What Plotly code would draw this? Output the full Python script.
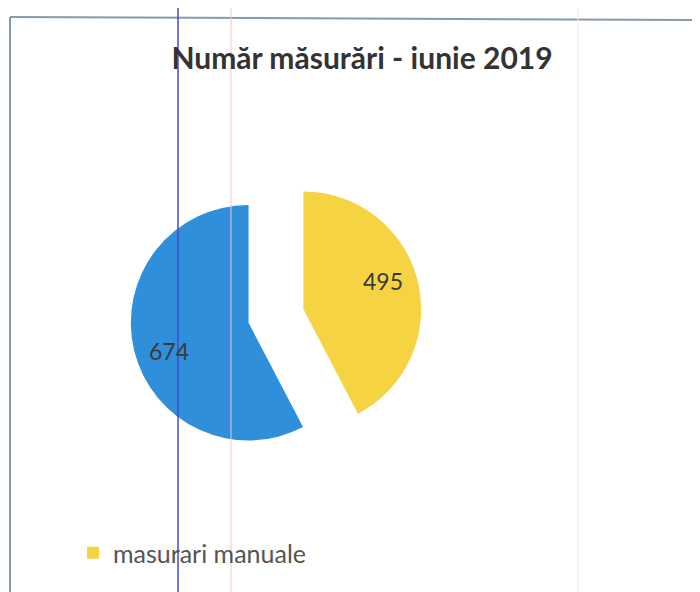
import math
import plotly.graph_objects as go

title = "Număr măsurări - iunie 2019"
labels = ["masurari manuale", "masurari automate"]
values = [495, 674]
colors = ["#F6D343", "#2F8FDB"]
legend_label = "masurari manuale"

# page body has an 8px margin, so the figure is a little smaller than the window
W, H = 692, 584
PULL = 0.24
LABEL_R = 0.72
LABEL_ROT = -6  # degrees, label slightly before the bisector

# pie box in pixels (top-down)
bx0, bx1, by0, by1 = 122, 414, 162, 454

fig = go.Figure()
fig.add_trace(go.Pie(
    labels=labels,
    values=values,
    sort=False,
    direction="clockwise",
    rotation=0,
    pull=[PULL] * len(values),
    marker=dict(colors=colors, line=dict(width=0)),
    textinfo="none",
    showlegend=False,
    domain=dict(x=[bx0 / W, bx1 / W], y=[1 - by1 / H, 1 - by0 / H]),
    hoverinfo="label+value",
))
# legend entry (only the yellow series is visible in the reference legend)
fig.add_trace(go.Scatter(
    x=[None], y=[None], mode="markers", name=legend_label,
    marker=dict(symbol="square", size=12, color=colors[0]),
    showlegend=True,
))

# value labels placed along each slice (computed from the data)
cx, cy = (bx0 + bx1) / 2, (by0 + by1) / 2
r = min(bx1 - bx0, by1 - by0) / (2 * (1 + PULL))
total = sum(values)
annotations = []
start = 0.0
for v in values:
    frac = v / total
    mid = (start + frac / 2) * 2 * math.pi
    start += frac
    ox = cx + PULL * r * math.sin(mid)
    oy = cy - PULL * r * math.cos(mid)
    a = mid + math.radians(LABEL_ROT)
    px = ox + LABEL_R * r * math.sin(a)
    py = oy - LABEL_R * r * math.cos(a)
    annotations.append(dict(
        x=px / W, y=1 - py / H, xref="paper", yref="paper",
        text=str(v), showarrow=False, xanchor="center", yanchor="middle",
        font=dict(family="Lato", size=23, color="#3a3a3a"),
    ))

fig.update_layout(
    width=W, height=H,
    paper_bgcolor="white", plot_bgcolor="white",
    margin=dict(l=0, r=0, t=0, b=0),
    title=dict(text="<b>" + title + "</b>", x=354 / W, xanchor="center",
               y=1 - 50 / H, yanchor="middle",
               font=dict(family="Lato", size=30, color="#333333")),
    xaxis=dict(visible=False), yaxis=dict(visible=False),
    legend=dict(x=65 / W, y=1 - 545 / H, xanchor="left", yanchor="middle",
                font=dict(family="Lato", size=25, color="#555555"),
                bgcolor="rgba(0,0,0,0)", itemsizing="constant"),
    annotations=annotations,
    shapes=[
        # chart frame (scan)
        dict(type="line", xref="paper", yref="paper", x0=2 / W, x1=2 / W,
             y0=0, y1=1 - 9 / H, line=dict(color="#8a9aa8", width=2)),
        dict(type="line", xref="paper", yref="paper", x0=2 / W, x1=1,
             y0=1 - 9 / H, y1=1 - 12 / H, line=dict(color="#8a9aa8", width=2)),
        # scan guide lines
        dict(type="line", xref="paper", yref="paper", x0=170 / W, x1=170 / W,
             y0=0, y1=1, line=dict(color="#4848c8", width=1.5)),
        dict(type="line", xref="paper", yref="paper", x0=223 / W, x1=223 / W,
             y0=0, y1=1, line=dict(color="#f0c4cc", width=1)),
        dict(type="line", xref="paper", yref="paper", x0=570 / W, x1=570 / W,
             y0=0, y1=1, line=dict(color="#eeeeee", width=1)),
    ],
)

fig.write_html("out.html")
